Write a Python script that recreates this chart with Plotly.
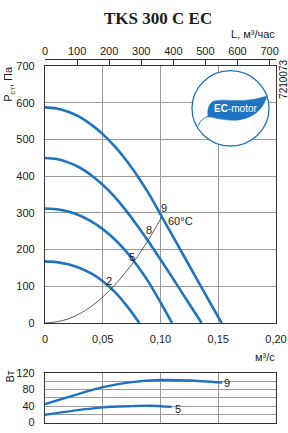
import plotly.graph_objects as go

# ---------------- data ----------------
# fan curves: static pressure (Pa) vs flow (m3/s)
q9 = [0, 0.01, 0.02, 0.03, 0.04, 0.05, 0.06, 0.07, 0.08, 0.09, 0.10, 0.11, 0.12, 0.13, 0.14, 0.15, 0.153]
p9 = [588, 585, 576, 562, 541, 515, 483, 445, 401, 352, 296, 240, 184, 128, 72, 16, 0]
q8 = [0, 0.01, 0.02, 0.03, 0.04, 0.05, 0.06, 0.07, 0.08, 0.09, 0.10, 0.11, 0.12, 0.13, 0.1355]
p8 = [450, 447, 438, 424, 403, 377, 345, 307, 265, 220, 173, 125, 76, 27, 0]
q5 = [0, 0.01, 0.02, 0.03, 0.04, 0.05, 0.06, 0.07, 0.08, 0.09, 0.10, 0.11]
p5 = [312, 310, 304, 293, 277, 256, 229, 196, 156, 110, 56, 0]
q2 = [0, 0.01, 0.02, 0.03, 0.04, 0.05, 0.06, 0.07, 0.0817]
p2 = [168, 166, 160, 150, 135, 114, 86, 50, 0]
# system curve (60°C)
qs = [0, 0.01, 0.02, 0.03, 0.04, 0.05, 0.06, 0.07, 0.08, 0.09, 0.1008]
ps = [0, 3, 11, 25, 45, 71, 102, 139, 181, 229, 288]
# power (W) vs flow
wq9 = [0, 0.025, 0.05, 0.075, 0.10, 0.125, 0.1535]
w9 = [45, 66, 86, 98, 103, 102, 97]
wq5 = [0, 0.025, 0.05, 0.075, 0.09, 0.1097]
w5 = [19, 29, 37, 40, 41, 38]

x_ticks = [0, 0.05, 0.10, 0.15, 0.20]
x_ticktext = ["0", "0,05", "0,10", "0,15", "0,20"]
y_ticks = [0, 100, 200, 300, 400, 500, 600, 700]
top_ticks = [0, 100, 200, 300, 400, 500, 600, 700]
w_ticks = [0, 40, 80, 120]
w_minor = [20, 60, 100]

# ---------------- layout helpers ----------------
W, H = 288, 433
PL, PR = 45, 276
MT, MB = 62, 326
LT, LB = 377.5, 428.5
TOPAX = 55


def dx(px):
    return (px - PL) / (PR - PL) * 0.20


def dy(py):
    return (MB - py) / (MB - MT) * 700


BLUE = "#1f74c1"
FONT = "Liberation Sans Narrow, Arial Narrow, Liberation Sans, sans-serif"
TXT = "#1a1a1a"

fig = go.Figure()

for q, p in [(q9, p9), (q8, p8), (q5, p5), (q2, p2)]:
    fig.add_trace(go.Scatter(x=q, y=p, mode="lines",
                             line=dict(color=BLUE, width=2.6, shape="spline", smoothing=1.0),
                             xaxis="x", yaxis="y", hoverinfo="skip", showlegend=False))
fig.add_trace(go.Scatter(x=qs, y=ps, mode="lines",
                         line=dict(color="#333333", width=0.8, shape="spline", smoothing=1.0),
                         xaxis="x", yaxis="y", hoverinfo="skip", showlegend=False))
for q, w in [(wq9, w9), (wq5, w5)]:
    fig.add_trace(go.Scatter(x=q, y=w, mode="lines",
                             line=dict(color=BLUE, width=2.4, shape="spline", smoothing=0.8),
                             xaxis="x2", yaxis="y2", hoverinfo="skip", showlegend=False))
# dummy trace for the top (m3/h) axis
fig.add_trace(go.Scatter(x=[0], y=[0], xaxis="x3", yaxis="y", mode="markers",
                         marker=dict(opacity=0), hoverinfo="skip", showlegend=False))

tickfont = dict(family=FONT, size=11, color=TXT)
GRID = "#9a9a9a"
LINE = "#333333"

fig.update_layout(
    width=W, height=H,
    margin=dict(l=PL, r=W - PR, t=0, b=0),
    paper_bgcolor="white", plot_bgcolor="white",
    showlegend=False,
    xaxis=dict(domain=[0, 1], range=[0, 0.20], tickvals=x_ticks, ticktext=x_ticktext,
               showgrid=True, gridcolor=GRID, gridwidth=1, zeroline=False,
               showline=True, linecolor=LINE, linewidth=1.3, mirror=True,
               ticks="outside", ticklen=6, tickcolor="rgba(0,0,0,0)",
               tickfont=tickfont, anchor="y", fixedrange=True),
    yaxis=dict(domain=[(H - MB) / H, (H - MT) / H], range=[0, 700], tickvals=y_ticks,
               showgrid=True, gridcolor=GRID, gridwidth=1, zeroline=False,
               showline=True, linecolor=LINE, linewidth=1.3, mirror=True,
               ticks="outside", ticklen=7, tickcolor="rgba(0,0,0,0)",
               tickfont=tickfont, anchor="x", fixedrange=True),
    xaxis3=dict(overlaying="x", anchor="free", position=(H - TOPAX) / H, side="top",
                range=[0, 720], tickvals=top_ticks, ticks="inside", ticklen=5,
                tickcolor=LINE, showline=True, linecolor=LINE, linewidth=1,
                showgrid=False, zeroline=False, tickfont=tickfont, fixedrange=True),
    xaxis2=dict(domain=[0, 1], range=[0, 0.20], tickvals=x_ticks, showticklabels=False,
                showgrid=True, gridcolor=GRID, gridwidth=1, zeroline=False,
                showline=True, linecolor=LINE, linewidth=1.3, mirror=True,
                anchor="y2", fixedrange=True),
    yaxis2=dict(domain=[(H - LB) / H, (H - LT) / H], range=[0, 120], tickvals=w_ticks,
                minor=dict(tickvals=w_minor, showgrid=True, gridcolor=GRID, gridwidth=1, ticks=""),
                showgrid=True, gridcolor=GRID, gridwidth=1, zeroline=False,
                showline=True, linecolor=LINE, linewidth=1.3, mirror=True,
                ticks="outside", ticklen=7, tickcolor="rgba(0,0,0,0)",
                tickfont=tickfont, anchor="x2", fixedrange=True),
)

ann = []


def add_text(text, x, y, size=11, xref="paper", yref="paper", xanchor="center", yanchor="middle",
             color=TXT, family=FONT, angle=0):
    ann.append(dict(text=text, x=x, y=y, xref=xref, yref=yref, xanchor=xanchor, yanchor=yanchor,
                    showarrow=False, textangle=angle, font=dict(size=size, color=color, family=family)))


def pxp(px):
    return (px - PL) / (PR - PL)


def pyp(py):
    return (H - py) / H


add_text("<b>TKS 300 C EC</b>", pxp(158), pyp(13), size=17, family="Liberation Serif, serif")
add_text("L, м³/час", pxp(277), pyp(29), size=11, xanchor="right")
add_text("P<sub>ст</sub>, Па", pxp(9), pyp(80), size=11, angle=-90)
add_text("7210073", pxp(284), pyp(76), size=10, angle=-90, color="#111")
add_text("м³/с", pxp(277), pyp(361), size=11, xanchor="right")
add_text("Вт", pxp(10), pyp(381), size=11, angle=-90)

# curve labels (main)
for t, x, y in [("9", 164, 208), ("8", 149, 230), ("5", 132, 258), ("2", 108.5, 283)]:
    add_text(t, dx(x), dy(y), size=11, xref="x", yref="y")
add_text("60°C", dx(180), dy(221), size=11, xref="x", yref="y")
# power labels
add_text("9", pxp(227), pyp(388), size=11)
add_text("5", pxp(178), pyp(415), size=11)

# EC-motor logo text
add_text("<b>EC</b>-motor", dx(235), dy(105.5), size=10, xref="x", yref="y", color="white",
         family="Liberation Sans, Arial, sans-serif")
fig.update_layout(annotations=ann)


def path_px(cmds):
    out = []
    for c in cmds:
        if isinstance(c, str):
            out.append(c)
        else:
            out.append(f"{dx(c[0]):.5f},{dy(c[1]):.3f}")
    return " ".join(out)


shapes = []
# logo circle
shapes.append(dict(type="circle", xref="x", yref="y", x0=dx(192), x1=dx(269), y0=dy(144), y1=dy(66.5),
                   line=dict(color=BLUE, width=1.3), fillcolor="white", layer="above"))
leaf = path_px(["M", (208, 114), "C", (207, 106), (209, 99), (215, 97.5),
                "C", (228, 95), (240, 101), (267, 92.5),
                "C", (264, 104), (256, 114), (240, 117),
                "C", (228, 119), (216, 115), (208, 114), "Z"])
shapes.append(dict(type="path", xref="x", yref="y", path=leaf, fillcolor=BLUE,
                   line=dict(color=BLUE, width=0.5), layer="above"))
stem = path_px(["M", (209, 113), "Q", (201, 116), (198, 123)])
shapes.append(dict(type="path", xref="x", yref="y", path=stem,
                   line=dict(color=BLUE, width=1), layer="above"))
fig.update_layout(shapes=shapes)

fig.write_html("out.html")
